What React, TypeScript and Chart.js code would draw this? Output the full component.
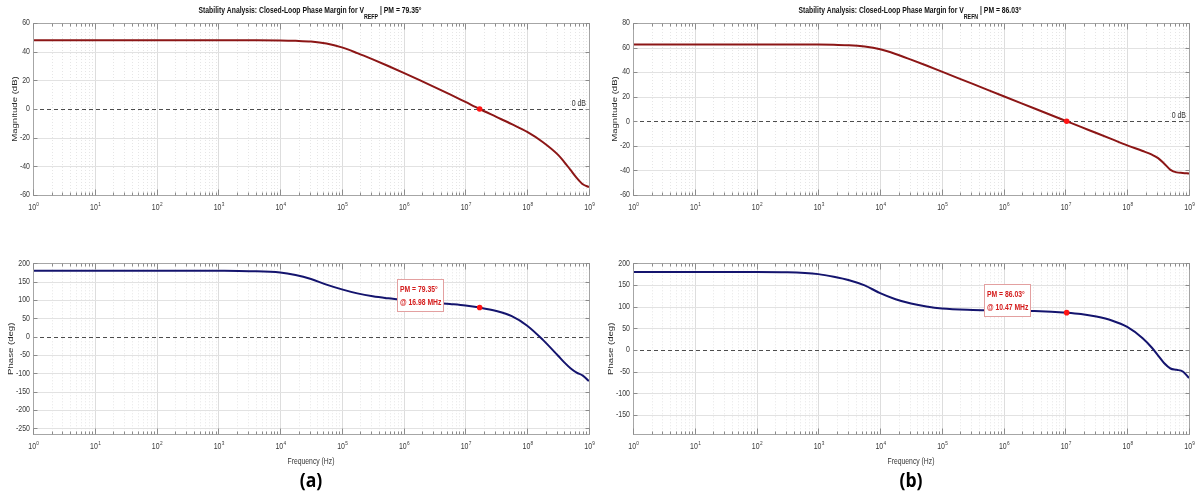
import React, { useEffect, useRef } from "react";
import { Chart, registerables } from "chart.js";

Chart.register(...registerables);

// ---------------- data ----------------
const freqA = [1, 10, 100, 1e3, 3.162e3, 1e4, 1.778e4, 3.162e4, 5.623e4, 1e5, 1.778e5, 3.162e5, 5.623e5, 1e6, 1.778e6, 3.162e6, 5.623e6, 1e7, 1.698e7, 3.162e7, 5.623e7, 1e8, 1.778e8, 3.162e8, 3.981e8, 5.012e8, 6.31e8, 7.943e8, 1e9];
const magA = [48, 48, 48, 48, 47.95, 47.85, 47.6, 47.1, 45.7, 43, 39, 34.6, 30, 25.2, 20.3, 15.3, 10.2, 4.9, 0, -5.5, -10.6, -16, -23, -32, -37, -42.5, -48, -52.5, -54.5];
const phaseA = [180, 180, 180, 179.5, 178.5, 175, 168, 157, 142, 129, 118, 110, 104.5, 100, 96, 92.5, 89, 85, 79.35, 70, 56, 30, -8, -52, -70, -86, -98, -106, -121];

const freqB = [1, 10, 100, 316.2, 1e3, 1.778e3, 3.162e3, 5.623e3, 1e4, 1.778e4, 3.162e4, 5.623e4, 1e5, 3.162e5, 1e6, 3.162e6, 1.047e7, 1.778e7, 3.162e7, 5.623e7, 1e8, 1.778e8, 2.512e8, 3.162e8, 3.981e8, 5.012e8, 6.31e8, 7.943e8, 1e9];
const magB = [62.5, 62.5, 62.5, 62.5, 62.4, 62.2, 61.9, 60.8, 58.6, 54.8, 50.2, 45.4, 40.4, 30.4, 20.4, 10.4, 0, -4.6, -9.5, -14.5, -19.6, -24.2, -27.2, -30, -34.5, -39.5, -41.6, -42, -42.5];
const phaseB = [180, 180, 180, 179.3, 175, 169, 161, 149, 131, 117, 107, 100, 95.5, 92.3, 91, 89.8, 86.03, 83, 77, 68, 53, 27, 5, -13, -31, -43, -46, -50, -65];

const crossFreqA = 1.698e7;
const pmA = 79.35;
const crossFreqB = 1.047e7;
const pmB = 86.03;

const decadeExps = [0, 1, 2, 3, 4, 5, 6, 7, 8, 9];
const minorMultipliers = [2, 3, 4, 5, 6, 7, 8, 9];

const magTicksA = [60, 40, 20, 0, -20, -40, -60];
const magTicksB = [80, 60, 40, 20, 0, -20, -40, -60];
const phaseTicksA = [200, 150, 100, 50, 0, -50, -100, -150, -200, -250];
const phaseTicksB = [200, 150, 100, 50, 0, -50, -100, -150];

const titleA = ["Stability Analysis: Closed-Loop Phase Margin for V", "REFP", " | PM = 79.35°"];
const titleB = ["Stability Analysis: Closed-Loop Phase Margin for V", "REFN", " | PM = 86.03°"];
const annA = ["PM = 79.35°", "@ 16.98 MHz"];
const annB = ["PM = 86.03°", "@ 10.47 MHz"];

// ---------------- drawing helpers ----------------
const FAM = '"Liberation Sans", Arial, Helvetica, sans-serif';
const SX = 0.8;

function drawText(
  ctx: CanvasRenderingContext2D,
  s: string,
  x: number,
  y: number,
  font: string,
  color: string,
  align: "left" | "right" | "center",
  baseline: CanvasTextBaseline = "alphabetic",
  sx: number = SX
) {
  ctx.save();
  ctx.font = font;
  ctx.fillStyle = color;
  ctx.textBaseline = baseline;
  ctx.textAlign = "left";
  const w = ctx.measureText(s).width * sx;
  const x0 = align === "left" ? x : align === "right" ? x - w : x - w / 2;
  ctx.translate(x0, y);
  ctx.scale(sx, 1);
  ctx.fillText(s, 0, 0);
  ctx.restore();
  return w;
}

function hline(ctx: CanvasRenderingContext2D, x1: number, x2: number, y: number) {
  ctx.beginPath();
  ctx.moveTo(x1, y);
  ctx.lineTo(x2, y);
  ctx.stroke();
}
function vline(ctx: CanvasRenderingContext2D, x: number, y1: number, y2: number) {
  ctx.beginPath();
  ctx.moveTo(x, y1);
  ctx.lineTo(x, y2);
  ctx.stroke();
}

type Cfg = {
  id: string;
  kind: "mag" | "phase";
  freq: number[];
  values: number[];
  color: string;
  yMin: number;
  yMax: number;
  yTicks: number[];
  yLabel: string;
  crossFreq: number;
  crossVal: number;
  title?: string[];
  ann?: string[];
  panelLabel?: string;
  pad: { left: number; top: number; right: number; bottom: number };
};

function makePlugin(cfg: Cfg) {
  return {
    id: "bode_" + cfg.id,
    beforeDatasetsDraw(chart: any) {
      const { ctx, chartArea: a } = chart;
      const xs = chart.scales.x;
      const ys = chart.scales.y;
      ctx.save();
      ctx.fillStyle = "#ffffff";
      ctx.fillRect(a.left, a.top, a.right - a.left, a.bottom - a.top);
      ctx.lineWidth = 1;
      // minor vertical grid (dotted)
      ctx.strokeStyle = "#e6e6e6";
      ctx.setLineDash([1, 2]);
      for (const e of decadeExps) {
        if (e === 9) continue;
        for (const m of minorMultipliers) {
          const px = Math.round(xs.getPixelForValue(m * Math.pow(10, e))) + 0.5;
          vline(ctx, px, a.top, a.bottom);
        }
      }
      // major grid
      ctx.setLineDash([]);
      ctx.strokeStyle = "#dddddd";
      for (const e of decadeExps) {
        const px = Math.round(xs.getPixelForValue(Math.pow(10, e))) + 0.5;
        vline(ctx, px, a.top, a.bottom);
      }
      ctx.strokeStyle = "#e2e2e2";
      for (const v of cfg.yTicks) {
        if (v === 0) continue;
        const py = Math.round(ys.getPixelForValue(v)) + 0.5;
        hline(ctx, a.left, a.right, py);
      }
      // zero reference (dashed)
      ctx.strokeStyle = "#4d4d4d";
      ctx.setLineDash([4, 3]);
      const zy = Math.round(ys.getPixelForValue(0)) + 0.5;
      hline(ctx, a.left, a.right, zy);
      ctx.restore();
    },
    afterDatasetsDraw(chart: any) {
      const { ctx, chartArea: a } = chart;
      const xs = chart.scales.x;
      const ys = chart.scales.y;
      ctx.save();
      ctx.lineWidth = 1;
      // box
      ctx.strokeStyle = "#a6a6a6";
      ctx.strokeRect(Math.round(a.left) + 0.5, Math.round(a.top) + 0.5, Math.round(a.right - a.left), Math.round(a.bottom - a.top));
      // ticks (inward)
      ctx.strokeStyle = "#8c8c8c";
      const top = Math.round(a.top) + 0.5;
      const bot = Math.round(a.bottom) + 0.5;
      for (const e of decadeExps) {
        const px = Math.round(xs.getPixelForValue(Math.pow(10, e))) + 0.5;
        vline(ctx, px, top, top + 6);
        vline(ctx, px, bot, bot - 6);
        if (e === 9) continue;
        for (const m of minorMultipliers) {
          const mx = Math.round(xs.getPixelForValue(m * Math.pow(10, e))) + 0.5;
          vline(ctx, mx, top, top + 3);
          vline(ctx, mx, bot, bot - 3);
        }
      }
      const lft = Math.round(a.left) + 0.5;
      const rgt = Math.round(a.right) + 0.5;
      for (const v of cfg.yTicks) {
        const py = Math.round(ys.getPixelForValue(v)) + 0.5;
        hline(ctx, lft, lft + 4, py);
        hline(ctx, rgt, rgt - 4, py);
      }
      // y tick labels
      for (const v of cfg.yTicks) {
        const py = ys.getPixelForValue(v);
        drawText(ctx, String(v), a.left - 3, py, `8.5px ${FAM}`, "#3a3a3a", "right", "middle", 0.82);
      }
      // x tick labels 10^n
      const lblY = a.bottom + 15;
      for (const e of decadeExps) {
        const px = xs.getPixelForValue(Math.pow(10, e));
        ctx.font = `8.5px ${FAM}`;
        const w10 = ctx.measureText("10").width * 0.82;
        ctx.font = `5.8px ${FAM}`;
        const wE = ctx.measureText(String(e)).width * 0.82;
        const x0 = px - (w10 + wE) / 2 + 0.5;
        drawText(ctx, "10", x0, lblY, `8.5px ${FAM}`, "#3a3a3a", "left", "alphabetic", 0.82);
        drawText(ctx, String(e), x0 + w10 + 0.3, lblY - 4, `5.8px ${FAM}`, "#3a3a3a", "left", "alphabetic", 0.82);
      }
      // y axis title (rotated)
      ctx.save();
      const tx = cfg.kind === "mag" ? a.left - 18 : a.left - 22;
      ctx.translate(tx, (a.top + a.bottom) / 2);
      ctx.rotate(-Math.PI / 2);
      ctx.scale(1, SX);
      ctx.font = `9.6px ${FAM}`;
      ctx.fillStyle = "#2a2a2a";
      ctx.textAlign = "center";
      ctx.textBaseline = "middle";
      ctx.fillText(cfg.yLabel, 0, 0);
      ctx.restore();

      const cx = (a.left + a.right) / 2;
      if (cfg.kind === "mag" && cfg.title) {
        // title with subscript, compressed to target width
        const big = `bold 9px ${FAM}`;
        const small = `bold 7px ${FAM}`;
        ctx.font = big;
        const w1 = ctx.measureText(cfg.title[0]).width;
        const w3 = ctx.measureText(cfg.title[2]).width;
        ctx.font = small;
        const w2 = ctx.measureText(cfg.title[1]).width;
        const total = w1 + w2 + w3;
        const target = 223;
        const s = target / total;
        ctx.save();
        ctx.translate(cx - 1 - target / 2, 13);
        ctx.scale(s, 1);
        ctx.fillStyle = "#111111";
        ctx.textAlign = "left";
        ctx.textBaseline = "alphabetic";
        ctx.font = big;
        ctx.fillText(cfg.title[0], 0, 0);
        ctx.font = small;
        ctx.fillText(cfg.title[1], w1, 5.5);
        ctx.font = big;
        ctx.fillText(cfg.title[2], w1 + w2, 0);
        ctx.restore();
        // 0 dB label
        const zy = ys.getPixelForValue(0);
        drawText(ctx, "0 dB", a.right - 3, zy - 3, `8.5px ${FAM}`, "#333333", "right", "alphabetic", 0.82);
      }
      if (cfg.kind === "phase") {
        // annotation box near the phase-margin marker
        const mx = xs.getPixelForValue(cfg.crossFreq);
        const my = ys.getPixelForValue(cfg.crossVal);
        const bw = 46;
        const bh = 32;
        const bx = Math.round(mx - 37 - bw) + 0.5;
        const by = Math.round(my - 28.5) + 0.5;
        ctx.fillStyle = "#ffffff";
        ctx.fillRect(bx, by, bw, bh);
        ctx.strokeStyle = "#e3a0a0";
        ctx.strokeRect(bx, by, bw, bh);
        if (cfg.ann) {
          drawText(ctx, cfg.ann[0], bx + 2.5, by + 12.5, `bold 8.5px ${FAM}`, "#d41c1c", "left", "alphabetic", 0.8);
          drawText(ctx, cfg.ann[1], bx + 2.5, by + 25.5, `bold 8.5px ${FAM}`, "#d41c1c", "left", "alphabetic", 0.8);
        }
        // x axis title
        drawText(ctx, "Frequency (Hz)", cx, a.bottom + 30, `8.5px ${FAM}`, "#333333", "center", "alphabetic", 0.8);
        if (cfg.panelLabel) {
          drawText(ctx, cfg.panelLabel, cx, a.bottom + 47, `bold 20px "Open Sans", ${FAM}`, "#000000", "center", "middle", 0.88);
        }
      }
      ctx.restore();
    },
  };
}

function Panel({ cfg, left, top, width, height }: { cfg: Cfg; left: number; top: number; width: number; height: number }) {
  const ref = useRef<HTMLCanvasElement>(null);
  useEffect(() => {
    if (!ref.current) return;
    const chart = new Chart(ref.current, {
      type: "line",
      data: {
        datasets: [
          {
            data: cfg.freq.map((f, i) => ({ x: f, y: cfg.values[i] })),
            borderColor: cfg.color,
            backgroundColor: cfg.color,
            borderWidth: 2,
            pointRadius: 0,
            cubicInterpolationMode: "monotone",
            fill: false,
            order: 2,
          } as any,
          {
            data: [{ x: cfg.crossFreq, y: cfg.crossVal }],
            showLine: false,
            pointRadius: 2.8,
            pointBackgroundColor: "#ff1414",
            pointBorderColor: "#ff1414",
            pointBorderWidth: 0,
            order: 1,
          } as any,
        ],
      },
      options: {
        responsive: false,
        animation: false,
        events: [],
        layout: { padding: cfg.pad },
        scales: {
          x: { type: "logarithmic", min: 1, max: 1e9, display: false },
          y: { type: "linear", min: cfg.yMin, max: cfg.yMax, display: false },
        },
        plugins: {
          legend: { display: false },
          tooltip: { enabled: false },
          title: { display: false },
        },
      },
      plugins: [makePlugin(cfg) as any],
    });
    return () => chart.destroy();
  }, []);
  return (
    <canvas
      ref={ref}
      width={width}
      height={height}
      style={{ position: "absolute", left, top, width, height, display: "block" }}
    />
  );
}

const MAG_COLOR = "#8c1616";
const PHASE_COLOR = "#14146e";

const cfgMagA: Cfg = {
  id: "magA", kind: "mag", freq: freqA, values: magA, color: MAG_COLOR,
  yMin: -60, yMax: 60, yTicks: magTicksA, yLabel: "Magnitude (dB)",
  crossFreq: crossFreqA, crossVal: 0, title: titleA,
  pad: { left: 33, top: 23, right: 9, bottom: 55 },
};
const cfgPhA: Cfg = {
  id: "phA", kind: "phase", freq: freqA, values: phaseA, color: PHASE_COLOR,
  yMin: -266, yMax: 200, yTicks: phaseTicksA, yLabel: "Phase (deg)",
  crossFreq: crossFreqA, crossVal: pmA, ann: annA, panelLabel: "(a)",
  pad: { left: 33, top: 13.3, right: 9, bottom: 66.7 },
};
const cfgMagB: Cfg = {
  id: "magB", kind: "mag", freq: freqB, values: magB, color: MAG_COLOR,
  yMin: -60, yMax: 80, yTicks: magTicksB, yLabel: "Magnitude (dB)",
  crossFreq: crossFreqB, crossVal: 0, title: titleB,
  pad: { left: 35, top: 23, right: 8, bottom: 55 },
};
const cfgPhB: Cfg = {
  id: "phB", kind: "phase", freq: freqB, values: phaseB, color: PHASE_COLOR,
  yMin: -195, yMax: 200, yTicks: phaseTicksB, yLabel: "Phase (deg)",
  crossFreq: crossFreqB, crossVal: pmB, ann: annB, panelLabel: "(b)",
  pad: { left: 35, top: 13.3, right: 8, bottom: 66.7 },
};

export default function App() {
  useEffect(() => {
    document.body.style.margin = "0";
    document.body.style.background = "#ffffff";
  }, []);
  return (
    <div style={{ position: "absolute", left: 0, top: 0, width: 1197, height: 501, background: "#ffffff", overflow: "hidden" }}>
      <Panel cfg={cfgMagA} left={0} top={0} width={598} height={250} />
      <Panel cfg={cfgPhA} left={0} top={250} width={598} height={251} />
      <Panel cfg={cfgMagB} left={598} top={0} width={599} height={250} />
      <Panel cfg={cfgPhB} left={598} top={250} width={599} height={251} />
    </div>
  );
}
